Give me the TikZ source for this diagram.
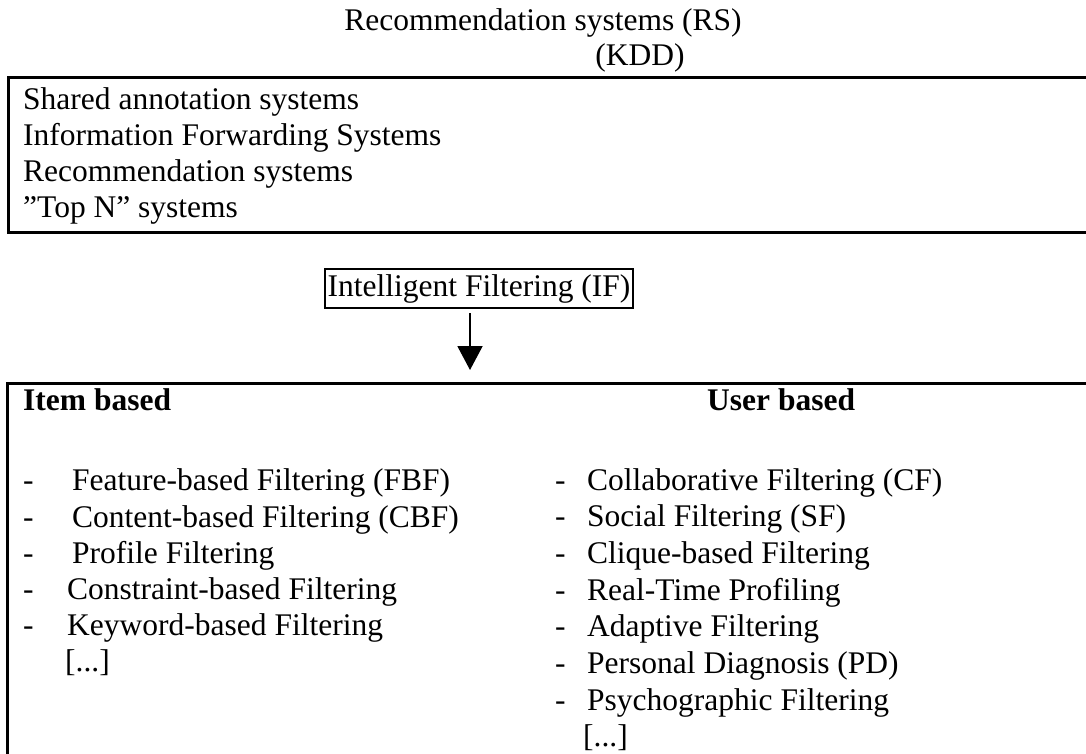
\documentclass[tikz,border=0pt]{standalone}
\usepackage{fontspec}
\setmainfont{Liberation Serif}
\usetikzlibrary{arrows.meta}
\begin{document}
\begin{tikzpicture}[x=1pt,y=-1pt,
  txt/.style={anchor=base west,inner sep=0pt,font=\fontsize{31.5}{36}\selectfont},
  hdr/.style={txt,font=\fontsize{31.5}{36}\selectfont\bfseries},
  frame/.style={line width=3pt}]
\useasboundingbox (0,0) rectangle (1086,754);
\clip (0,0) rectangle (1086,754);
% title
\node[anchor=base,inner sep=0pt,font=\fontsize{31.5}{36}\selectfont] (title) at (543,31) {Recommendation systems (RS)};
\node[anchor=base,inner sep=0pt,font=\fontsize{31.5}{36}\selectfont] (kdd) at (640,66) {(KDD)};
% top box
\draw[frame] (1100,78) -- (8,78) -- (8,232) -- (1100,232);
\node[txt] (t1) at (23,110) {Shared annotation systems};
\node[txt] (t2) at (23,146) {Information Forwarding Systems};
\node[txt] (t3) at (23,182) {Recommendation systems};
\node[txt] (t4) at (23,218) {”Top N” systems};
% IF
\node[draw,line width=2pt,inner sep=0pt,minimum width=308pt,minimum height=39pt,font=\fontsize{31.5}{36}\selectfont] (if) at (479,288.5) {Intelligent Filtering (IF)};
\coordinate (astart) at (470,313);
\coordinate (aend) at (470,370);
\draw[line width=2pt,-{Triangle[width=25pt,length=24pt]}] (astart) -- (aend);
% lower box
\draw[frame] (1100,383) -- (7,383) -- (7,770);
\node[hdr] (item) at (23,410) {Item based};
\node[hdr] (user) at (707,410) {User based};
% left list
\foreach \y/\x/\t [count=\i] in {490/72/Feature-based Filtering (FBF),527/72/Content-based Filtering (CBF),563/72/Profile Filtering,599/67/Constraint-based Filtering,635/67/Keyword-based Filtering}{
  \node[txt] (ld\i) at (23,\y) {-};
  \node[txt] (l\i) at (\x,\y) {\t};
}
\node[txt] (l6) at (65,671) {[...]};
% right list
\foreach \y/\t [count=\i] in {490/Collaborative Filtering (CF),526.7/Social Filtering (SF),563.3/Clique-based Filtering,600/Real-Time Profiling,636.7/Adaptive Filtering,673.3/Personal Diagnosis (PD),710/Psychographic Filtering}{
  \node[txt] (rd\i) at (555,\y) {-};
  \node[txt] (r\i) at (587,\y) {\t};
}
\node[txt] (r8) at (583,746.7) {[...]};
\end{tikzpicture}
\end{document}
